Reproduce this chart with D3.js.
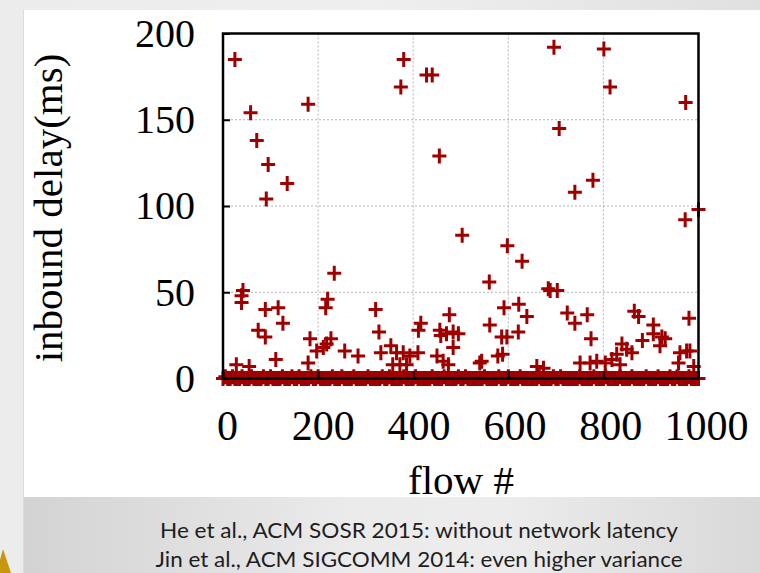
<!DOCTYPE html>
<html>
<head>
<meta charset="utf-8">
<script src="https://cdn.jsdelivr.net/npm/d3@7"></script>
<style>
  html, body { margin: 0; padding: 0; background: #ffffff; }
  svg { display: block; }
</style>
</head>
<body>
<div id="grafico"></div>
<script>
// outliers: flow # and delay (ms)
const flows = [
  25, 58, 179, 71, 95, 135, 91, 380, 374, 428, 440, 455,
  696, 801, 814, 973, 707, 778, 740, 972, 1000,
  598, 629, 560, 684, 688, 703, 591, 622, 639, 561, 586, 597, 621, 588, 540,
  724, 740, 766, 774, 660, 674,
  751, 772, 786, 804, 818, 828, 839, 849, 860, 835,
  865, 874, 905, 882, 905, 923, 930, 919, 980, 961, 975, 982, 958, 990,
  503, 234, 42, 39, 39, 220, 216, 89, 116, 126, 74, 89,
  321, 328, 332, 353, 183, 197, 211, 218, 227, 256, 284, 111, 28, 55, 179,
  416, 411, 476, 456, 470, 484, 495, 458, 484,
  365, 379, 393, 410, 372, 386, 357, 450, 463, 474, 544, 578
];
const delays = [
  185, 154, 159, 138, 124, 113, 104, 185, 169, 176, 176, 129,
  192, 191, 169, 160, 145, 115, 108, 92, 98,
  77, 68, 56, 52, 51, 51, 41, 43, 36, 31, 24, 24, 27, 14, 9,
  38, 32, 37, 23, 7, 6,
  9, 9, 10, 9, 11, 14, 20, 17, 15, 8,
  39, 36, 31, 22, 26, 24, 23, 19, 35, 15, 16, 16, 9, 7,
  83, 61, 51, 48, 44, 46, 41, 40, 41, 32, 28, 24,
  40, 27, 15, 19, 23, 16, 18, 20, 23, 16, 13, 11, 8, 7, 9,
  32, 28, 37, 28, 26, 27, 26, 25, 18,
  15, 15, 13, 15, 8, 8, 8, 13, 10, 8, 10, 13
];

// the bulk of the flows, one every 5 flows (flow # = index * 5), delay in ms
const passoFluxo = 5;
const delaysBase = [
  0, 1, 0, 0, 1, 0, 0, 0, 1, 0, 0, 0, 1, 0, 0, 0, 0, 1, 0, 0,
  1, 0, 0, 0, 0, 1, 0, 0, 0, 1, 0, 0, 1, 0, 0, 0, 0, 1, 0, 0,
  1, 0, 0, 0, 0, 0, 1, 0, 0, 0, 1, 0, 0, 0, 0, 1, 0, 0, 0, 0,
  0, 1, 0, 0, 0, 0, 0, 1, 0, 0, 1, 0, 0, 0, 0, 0, 1, 0, 0, 0,
  0, 1, 0, 0, 0, 0, 0, 0, 1, 0, 0, 0, 0, 1, 0, 0, 0, 0, 0, 1,
  0, 0, 1, 0, 0, 0, 0, 0, 0, 0, 1, 0, 0, 0, 0, 0, 1, 0, 0, 0,
  1, 0, 0, 0, 0, 1, 0, 0, 0, 0, 0, 0, 0, 1, 0, 0, 0, 0, 0, 1,
  0, 0, 1, 0, 0, 0, 0, 0, 0, 0, 1, 0, 0, 0, 0, 0, 1, 0, 0, 0,
  0, 1, 0, 0, 0, 0, 0, 1, 0, 0, 0, 0, 1, 0, 0, 0, 0, 0, 1, 0,
  0, 0, 0, 1, 0, 0, 0, 0, 1, 0, 0, 1, 0, 0, 0, 0, 1, 0, 0, 0,
  0
];

const xTicks = [0, 200, 400, 600, 800, 1000];
const yTicks = [0, 50, 100, 150, 200];
const rotuloX = "flow #";
const rotuloY = "inbound delay(ms)";
const legenda = [
  "He et al., ACM SOSR 2015: without network latency",
  "Jin et al., ACM SIGCOMM 2014: even higher variance"
];

// MEDIDAS ----------------------------------------------------------------
const largura = 760, altura = 573;
const area = { esquerda: 223, direita: 698.5, superior: 33.5, inferior: 378.5 };
const cor = "#9e0000";
const fonteSerif = "'Liberation Serif', 'Times New Roman', serif";

const escalaX = d3.scaleLinear([0, 1000], [area.esquerda, area.direita]);
const escalaY = d3.scaleLinear([0, 200], [area.inferior, area.superior]);
// tick labels on the slide sit a few pixels right of their ticks
const escalaRotuloX = d3.scaleLinear([0, 1000], [227, 706]);

const svg = d3.select("#grafico").append("svg")
  .attr("width", largura)
  .attr("height", altura)
  .attr("viewBox", [0, 0, largura, altura]);

const defs = svg.append("defs");
const gTopo = defs.append("linearGradient").attr("id", "topo");
gTopo.append("stop").attr("offset", "0%").attr("stop-color", "#ececec");
gTopo.append("stop").attr("offset", "50%").attr("stop-color", "#efefef");
gTopo.append("stop").attr("offset", "100%").attr("stop-color", "#e0e0e0");
const gRodape = defs.append("linearGradient").attr("id", "rodape");
gRodape.append("stop").attr("offset", "0%").attr("stop-color", "#d3d3d3");
gRodape.append("stop").attr("offset", "45%").attr("stop-color", "#ebebeb");
gRodape.append("stop").attr("offset", "65%").attr("stop-color", "#ececec");
gRodape.append("stop").attr("offset", "100%").attr("stop-color", "#d9d9d9");

// fundo do slide
svg.append("rect").attr("width", largura).attr("height", altura).attr("fill", "#ececec");
svg.append("rect").attr("x", 0).attr("y", 0).attr("width", largura).attr("height", 10).attr("fill", "url(#topo)");
svg.append("rect").attr("x", 24).attr("y", 10).attr("width", largura - 24).attr("height", 487).attr("fill", "#ffffff");
svg.append("line").attr("x1", 23.5).attr("x2", 23.5).attr("y1", 10).attr("y2", altura)
  .attr("stroke", "#dcdcdc").attr("stroke-width", 1);

// GRADE ------------------------------------------------------------------
const grade = svg.append("g").attr("stroke", "#b4b4b4").attr("stroke-width", 1)
  .attr("stroke-dasharray", "2,2");
grade.selectAll(".gx").data(xTicks.slice(1, -1)).join("line")
  .attr("x1", d => escalaX(d)).attr("x2", d => escalaX(d))
  .attr("y1", area.superior).attr("y2", area.inferior);
grade.selectAll(".gy").data(yTicks.slice(1, -1)).join("line")
  .attr("y1", d => escalaY(d)).attr("y2", d => escalaY(d))
  .attr("x1", area.esquerda).attr("x2", area.direita);

// PONTOS -----------------------------------------------------------------
const cruz = "M-7,0H7M0,-7.5V7.5";
const pontos = svg.append("g").attr("fill", "none").attr("stroke", cor).attr("stroke-width", 3);
pontos.selectAll(".base").data(delaysBase).join("path")
  .attr("class", "base")
  .attr("d", cruz)
  .attr("transform", (d, i) => `translate(${escalaX(i * passoFluxo)},${escalaY(d)})`);
pontos.selectAll(".outlier").data(d3.range(flows.length)).join("path")
  .attr("class", "outlier")
  .attr("d", cruz)
  .attr("transform", i => `translate(${escalaX(flows[i])},${escalaY(delays[i])})`);

// EIXOS ------------------------------------------------------------------
svg.append("g")
  .attr("transform", `translate(${area.esquerda},0)`)
  .call(d3.axisRight(escalaY).tickValues(yTicks).tickSize(7).tickFormat(""))
  .call(g => g.select(".domain").remove())
  .call(g => g.selectAll(".tick line").attr("stroke", "#000").attr("stroke-width", 2));

svg.append("g")
  .attr("transform", `translate(0,${area.inferior})`)
  .call(d3.axisTop(escalaX).tickValues(xTicks).tickSize(7).tickFormat(""))
  .call(g => g.select(".domain").remove())
  .call(g => g.selectAll(".tick line").attr("stroke", "#000").attr("stroke-width", 2));

svg.append("rect")
  .attr("x", area.esquerda).attr("y", area.superior)
  .attr("width", area.direita - area.esquerda)
  .attr("height", area.inferior - area.superior)
  .attr("fill", "none").attr("stroke", "#000").attr("stroke-width", 2.5);

// rotulos dos ticks y
svg.append("g")
  .attr("transform", "translate(195,0)")
  .call(d3.axisLeft(escalaY).tickValues(yTicks).tickSize(0).tickPadding(0).tickFormat(d3.format("d")))
  .call(g => g.select(".domain").remove())
  .call(g => g.selectAll("text")
    .attr("font-family", fonteSerif).attr("font-size", 40).attr("fill", "#000"));

// rotulos dos ticks x
svg.append("g")
  .attr("transform", "translate(0,440)")
  .call(d3.axisBottom(escalaRotuloX).tickValues(xTicks).tickSize(0).tickPadding(0).tickFormat(d3.format("d")))
  .call(g => g.select(".domain").remove())
  .call(g => g.selectAll("text")
    .attr("font-family", fonteSerif).attr("font-size", 42).attr("fill", "#000")
    .attr("dy", 0));

svg.append("text")
  .attr("x", 461).attr("y", 494)
  .attr("text-anchor", "middle")
  .attr("font-family", fonteSerif).attr("font-size", 41)
  .text(rotuloX);

svg.append("text")
  .attr("transform", "translate(62,208) rotate(-90)")
  .attr("text-anchor", "middle")
  .attr("font-family", fonteSerif).attr("font-size", 41)
  .text(rotuloY);

// RODAPE -----------------------------------------------------------------
svg.append("rect").attr("x", 24).attr("y", 497).attr("width", largura - 24).attr("height", altura - 497)
  .attr("fill", "url(#rodape)");
svg.append("path").attr("d", "M0,560L3,549L11,573L0,573Z").attr("fill", "#c8960a");

svg.append("g")
  .attr("font-family", "Lato, 'Open Sans', sans-serif")
  .attr("font-size", 21)
  .attr("fill", "#1e1e1e")
  .selectAll("text").data(legenda).join("text")
    .attr("x", 419)
    .attr("y", (d, i) => 538 + i * 29)
    .attr("text-anchor", "middle")
    .attr("textLength", (d, i) => i === 0 ? 518 : 527)
    .attr("lengthAdjust", "spacingAndGlyphs")
    .text(d => d);
</script>
</body>
</html>
